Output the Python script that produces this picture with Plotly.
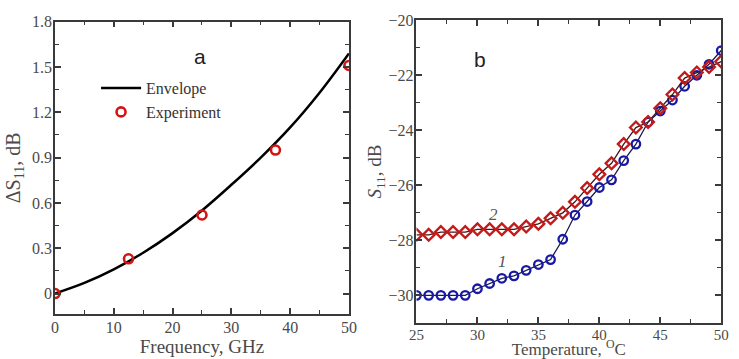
import plotly.graph_objects as go

# Panel a
env_freq = [0, 5, 10, 15, 20, 25, 30, 35, 40, 45, 50]
env_ds11 = [0.0, 0.07, 0.16, 0.27, 0.40, 0.55, 0.72, 0.90, 1.10, 1.33, 1.59]
exp_freq = [0, 12.5, 25, 37.5, 50]
exp_ds11 = [0.0, 0.23, 0.52, 0.95, 1.51]

# Panel b
temp = list(range(25, 51))
s11_curve1 = [-30.0, -30.0, -30.0, -30.0, -30.0, -29.76, -29.57, -29.38, -29.29, -29.09,
              -28.88, -28.70, -27.96, -27.08, -26.59, -26.08, -25.8, -25.1, -24.5, -23.7,
              -23.3, -22.9, -22.4, -22.0, -21.6, -21.1]
s11_curve2 = [-27.8, -27.8, -27.7, -27.7, -27.7, -27.6, -27.6, -27.6, -27.6, -27.5,
              -27.4, -27.2, -27.0, -26.6, -26.1, -25.6, -25.2, -24.5, -23.9, -23.7,
              -23.2, -22.7, -22.1, -21.9, -21.7, -21.5]

SERIF = "Liberation Serif"
AX = "#3a3a3a"
TXT = "#4a4a4a"

fig = go.Figure()
fig.add_trace(go.Scatter(x=env_freq, y=env_ds11, mode="lines", name="Envelope",
                         line=dict(color="black", width=2.5, shape="spline"),
                         xaxis="x", yaxis="y"))
fig.add_trace(go.Scatter(x=exp_freq, y=exp_ds11, mode="markers", name="Experiment",
                         marker=dict(symbol="circle-open", size=9, color="#d41414",
                                     line=dict(width=2.6, color="#d41414")),
                         xaxis="x", yaxis="y"))
fig.add_trace(go.Scatter(x=temp, y=s11_curve1, mode="lines+markers", showlegend=False,
                         line=dict(color="#1c1c4a", width=1.3),
                         marker=dict(symbol="circle-open", size=8.5, color="#1717a8",
                                     line=dict(width=2.3, color="#1717a8")),
                         xaxis="x2", yaxis="y2"))
fig.add_trace(go.Scatter(x=temp, y=s11_curve2, mode="lines+markers", showlegend=False,
                         line=dict(color="#3a1a1a", width=1.3),
                         marker=dict(symbol="diamond-open", size=9, color="#c41a1a",
                                     line=dict(width=2.3, color="#c41a1a")),
                         xaxis="x2", yaxis="y2"))

def axis(**kw):
    d = dict(showgrid=False, zeroline=False, showline=True, linecolor=AX, linewidth=1.6,
             mirror="ticks", ticks="inside", ticklen=6, tickwidth=1.5, tickcolor=AX,
             ticklabelstandoff=-2,
             tickfont=dict(family=SERIF, size=16, color=TXT),
             title_font=dict(family=SERIF, size=19, color=TXT))
    d.update(kw)
    return d

fig.update_layout(
    width=739, height=359, margin=dict(l=0, r=0, t=0, b=0),
    paper_bgcolor="white", plot_bgcolor="white",
    xaxis=axis(domain=[0.0663, 0.4723], range=[0, 50], dtick=10, tick0=0,
               minor=dict(dtick=5, ticks="inside", ticklen=4, tickcolor=AX, tickwidth=1.3),
               title=dict(text="Frequency, GHz", standoff=0), anchor="y"),
    yaxis=axis(domain=[0.128, 0.961], range=[-0.136, 1.8], dtick=0.3, tick0=0,
               minor=dict(dtick=0.15, ticks="inside", ticklen=4, tickcolor=AX, tickwidth=1.3),
               title=dict(text="ΔS<sub>11</sub>, dB", standoff=6,
                          font=dict(family=SERIF, size=20, color=TXT)), anchor="x"),
    xaxis2=axis(domain=[0.5656, 0.9865], range=[25, 50], dtick=5, tick0=25,
                ticklabelstandoff=-3,
                tickfont=dict(family=SERIF, size=15, color=TXT),
                minor=dict(dtick=2.5, ticks="inside", ticklen=4, tickcolor=AX, tickwidth=1.3),
                title=dict(text="Temperature, <sup>O</sup>C", standoff=3,
                           font=dict(family=SERIF, size=17, color=TXT)), anchor="y2"),
    yaxis2=axis(domain=[0.103, 0.965], range=[-31, -20], dtick=2, tick0=-20,
                minor=dict(dtick=1, ticks="inside", ticklen=4, tickcolor=AX, tickwidth=1.3),
                title=dict(text="<i>S</i><sub>11</sub>, dB", standoff=0), anchor="x2"),
    legend=dict(x=0.123, y=0.82, xanchor="left", yanchor="top",
                bgcolor="rgba(0,0,0,0)", font=dict(family=SERIF, size=16, color="#333"),
                tracegroupgap=0, itemwidth=40),
    annotations=[
        dict(text="a", x=24.7, y=1.567, xref="x", yref="y", showarrow=False,
             font=dict(family="Liberation Sans", size=21, color="#222")),
        dict(text="b", x=30.2, y=-21.43, xref="x2", yref="y2", showarrow=False,
             font=dict(family="Liberation Sans", size=21, color="#222")),
        dict(text="<i>1</i>", x=32.05, y=-28.76, xref="x2", yref="y2", showarrow=False,
             font=dict(family=SERIF, size=17, color="#555")),
        dict(text="<i>2</i>", x=31.3, y=-27.07, xref="x2", yref="y2", showarrow=False,
             font=dict(family=SERIF, size=17, color="#555")),
    ],
)

fig.write_html("out.html")
